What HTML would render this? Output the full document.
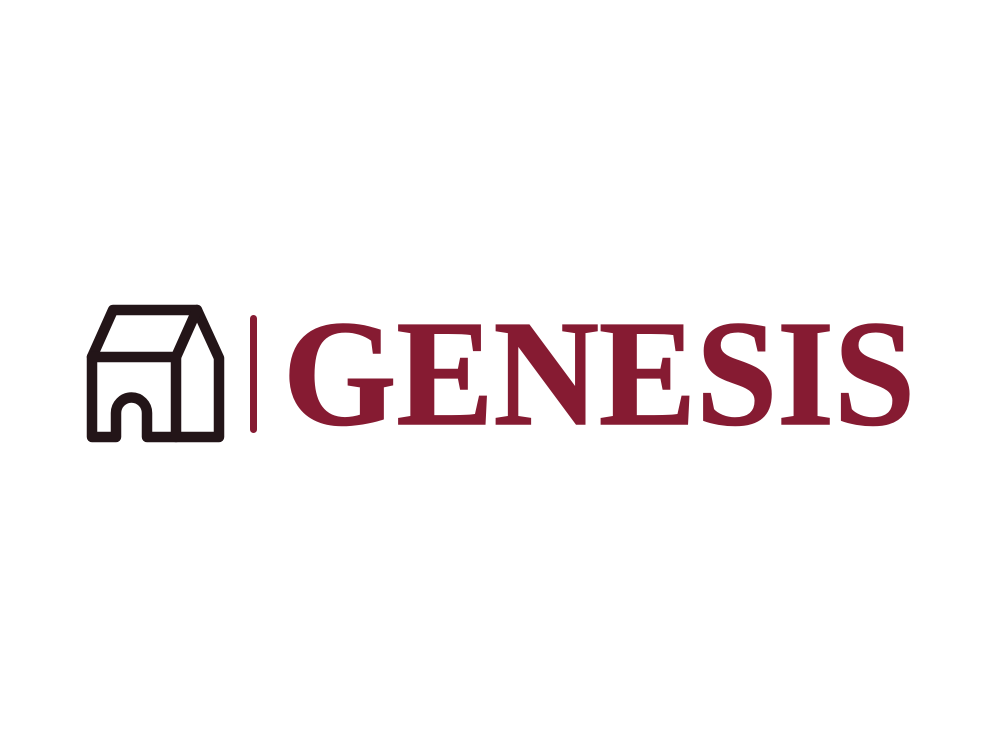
<!DOCTYPE html>
<html>
<head>
<meta charset="utf-8">
<style>
html,body{margin:0;padding:0;background:#fff;}
svg{display:block;}
</style>
</head>
<body>
<svg width="1000" height="750" viewBox="0 0 1000 750">
  <g fill="none" stroke="#231518" stroke-width="10.5" stroke-linejoin="round" stroke-linecap="round">
    <path d="M92,437 L92,357 L113,310 L197,310 L219,358 L219,437 L147,437 L147,413 A15.5,15.5 0 0 0 116,413 L116,437 Z"/>
    <path d="M92,357 L176,357 L197,310"/>
    <path d="M176,357 L176,437"/>
  </g>
  <rect x="250" y="315" width="7" height="118" rx="3.5" fill="#861B32"/>
  <text x="283" y="424" font-family="'Liberation Serif', serif" font-weight="bold" font-size="151" fill="#861B32" stroke="#861B32" stroke-width="1.6" textLength="632" lengthAdjust="spacingAndGlyphs">GENESIS</text>
</svg>
</body>
</html>
